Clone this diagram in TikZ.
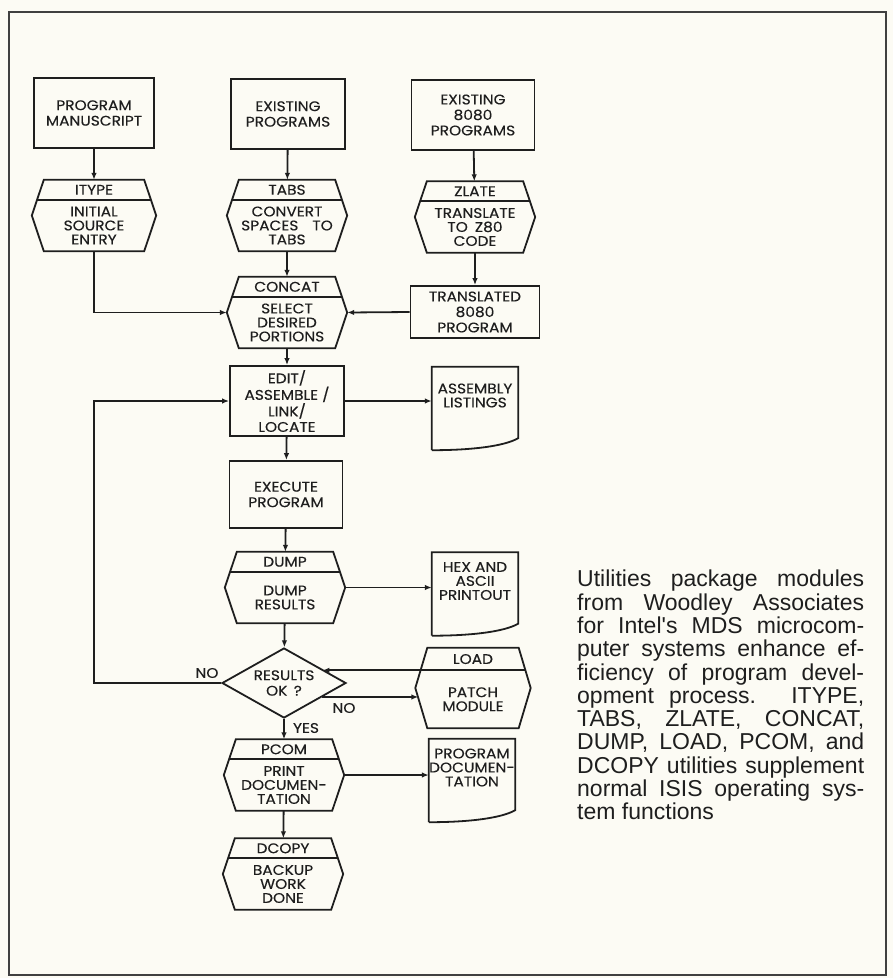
\documentclass[tikz,border=0pt]{standalone}
\usepackage{fontspec}
\newfontfamily\chartfont{Poppins}[FakeStretch=1.1, FakeBold=0.3]
\newfontfamily\notefont{Liberation Sans}
\usetikzlibrary{arrows.meta,positioning,calc,shapes.geometric}
\definecolor{paper}{RGB}{252,251,244}
\definecolor{ink}{RGB}{30,30,30}

% utility module: name, centre, header, body
\newcommand{\utility}[5][]{%
  \node[hexbox,#1] (#2) at (#3) {};
  \draw[line] (#2.west) -- ([xshift=12pt]#2.north west) -- ([xshift=-12pt]#2.north east)
    -- (#2.east) -- ([xshift=-12pt]#2.south east) -- ([xshift=12pt]#2.south west) -- cycle;
  \coordinate (#2-dl) at ($([xshift=12pt]#2.north west)!0.56!(#2.west)$);
  \coordinate (#2-dr) at ($([xshift=-12pt]#2.north east)!0.56!(#2.east)$);
  \draw[line] (#2-dl) -- (#2-dr);
  \node[chart] at ($(#2.north)!0.5!(#2-dl -| #2.north)$) {#4};
  \node[hexbody] at ($(#2.south)!0.5!(#2-dl -| #2.south)$) {#5};
}
% printed output: name, centre, text
\newcommand{\printout}[3]{%
  \node[docbox] (#1) at (#2) {};
  \draw[line] (#1.south west) -- (#1.north west) -- (#1.north east) -- ([yshift=12pt]#1.south east)
    .. controls ([xshift=-14pt,yshift=4pt]#1.south east) and ([xshift=40pt]#1.south west) .. (#1.south west);
  \node[hexbody] at ([yshift=13pt]#1.center) {#3};
}

\begin{document}
\begin{tikzpicture}[
    x=1pt, y=-1pt,
    line/.style={draw=ink, line width=1.8pt, line join=miter},
    chart/.style={font=\chartfont\fontsize{14}{15.5}\selectfont, align=center, text=ink, inner sep=0pt},
    hexbody/.style={chart, font=\chartfont\fontsize{14}{14}\selectfont},
    box/.style={chart, line},
    hexbox/.style={minimum width=120pt, minimum height=71pt, inner sep=0pt},
    docbox/.style={minimum width=86pt, minimum height=83pt, inner sep=0pt},
    test/.style={chart, line, shape=diamond, aspect=1.77,
                 minimum width=124pt, minimum height=70pt},
    note/.style={font=\notefont\fontsize{23}{23.3}\selectfont, text=ink, text width=287pt,
                 align=justify, inner sep=0pt, execute at begin node={\hyphenpenalty=10000}},
    arr/.style={line, -{Latex[length=7pt,width=5.5pt]}}
  ]
  \fill[paper] (0,0) rectangle (893,978);
  \useasboundingbox (0,0) rectangle (893,978);
  \draw[line width=2.4pt, ink!85] (9,12) rectangle (886,975);

  % sources
  \node[box, minimum width=120pt, minimum height=70pt] (man) at (94,113) {PROGRAM\\MANUSCRIPT};
  \node[box, minimum width=114pt, minimum height=70pt] (exist) at (288,114) {EXISTING\\PROGRAMS};
  \node[box, minimum width=123pt, minimum height=70pt] (old) at (473,115) {EXISTING\\8080\\PROGRAMS};

  % front-end utilities
  \utility[minimum width=124pt]{itype}{94,215.5}{ITYPE}{INITIAL\\SOURCE\\ENTRY}
  \utility{tabs}{287,215.5}{TABS}{CONVERT\\SPACES\quad TO\\TABS}
  \utility{zlate}{475,217}{ZLATE}{TRANSLATE\\TO\enspace Z80\\CODE}
  \node[box, minimum width=129pt, minimum height=52pt] (transl) at (475,312) {TRANSLATED\\8080\\PROGRAM};
  \utility{concat}{287,312.5}{CONCAT}{SELECT\\DESIRED\\PORTIONS}

  % main loop
  \node[box, minimum width=114pt, minimum height=70pt] (edit) at (287,401) {EDIT/\\ASSEMBLE /\\LINK/\\LOCATE};
  \printout{asm}{475,408.5}{ASSEMBLY\\LISTINGS}
  \node[box, minimum width=113pt, minimum height=67pt] (exec) at (286,494.5) {EXECUTE\\PROGRAM};
  \utility{dump}{285,587.5}{DUMP}{DUMP\\RESULTS}
  \printout{hex}{475,594}{HEX AND\\ASCII\\PRINTOUT}
  \node[test] (ok) at (284,683) {RESULTS\\OK \,?};
  \utility[minimum width=115pt, minimum height=80pt]{patch}{473,688}{LOAD}{PATCH\\MODULE}
  \utility{pcom}{284,775}{PCOM}{PRINT\\DOCUMEN-\\TATION}
  \printout{doc}{472,780.5}{PROGRAM\\DOCUMEN-\\TATION}
  \utility{dcopy}{283,874}{DCOPY}{BACKUP\\WORK\\DONE}
  \coordinate (back) at (94,683);

  % connectors
  \draw[arr] (man) -- (itype);
  \draw[arr] (exist) -- (tabs);
  \draw[arr] (old) -- (zlate);
  \draw[arr] (zlate) -- (transl);
  \draw[arr] (tabs) -- (concat);
  \draw[arr] (itype.south) |- (concat.west);
  \draw[arr] (transl.west) -- (concat.east);
  \draw[arr] (concat) -- (edit);
  \draw[arr] (edit.east) -- (edit.east -| asm.west);
  \draw[arr] (edit) -- (exec);
  \draw[arr] (exec) -- (dump);
  \draw[arr] (dump.east) -- (dump.east -| hex.west);
  \draw[arr] (dump) -- (ok);
  \draw[arr] (ok.west) -- (back) |- (edit.west);
  \draw[arr] (ok.-20) -- ([xshift=3pt]patch.west |- ok.-20);
  \draw[arr] (patch-dl) -- (patch-dl -| ok.20);
  \draw[arr] (ok) -- (pcom);
  \draw[arr] (pcom.east) -- (pcom.east -| doc.west);
  \draw[arr] (pcom) -- (dcopy);

  \node[chart] (no1) at (207,673) {NO};
  \node[chart] (no2) at (344,708) {NO};
  \node[chart] (yes) at (306,728) {YES};

  \node[note, anchor=north west] (cap) at (577,570) {Utilities package modules\linebreak
    from Woodley Associates\linebreak
    for Intel's MDS microcom-\linebreak
    puter systems enhance ef-\linebreak
    ficiency of program devel-\linebreak
    opment process. ITYPE,\linebreak
    TABS, ZLATE, CONCAT,\linebreak
    DUMP, LOAD, PCOM, and\linebreak
    DCOPY utilities supplement\linebreak
    normal ISIS operating sys-\linebreak
    tem functions};
\end{tikzpicture}
\end{document}
